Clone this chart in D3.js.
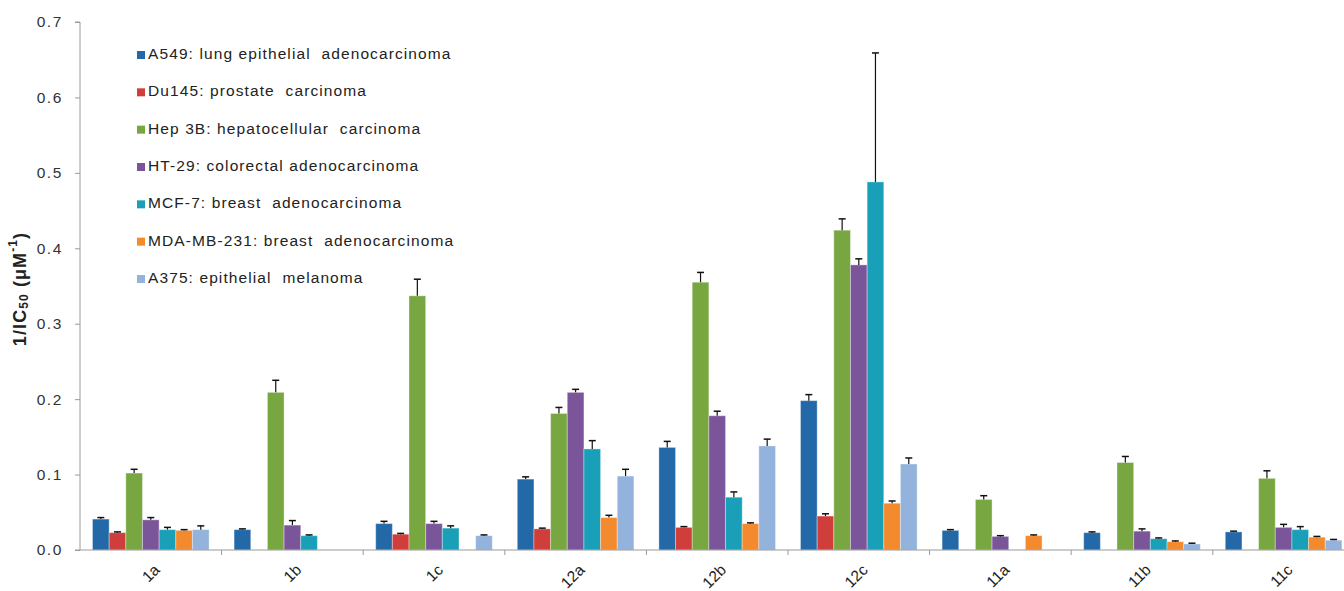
<!DOCTYPE html>
<html>
<head>
<meta charset="utf-8">
<script src="https://cdn.jsdelivr.net/npm/d3@7"></script>
<style>
  html, body { margin: 0; padding: 0; background: #fff; }
  svg { display: block; font-family: "Liberation Sans", Arial, sans-serif; }
</style>
</head>
<body>
<svg id="chart" width="1344" height="591"></svg>
<script>
// ---- data ----
const categories = ["1a", "1b", "1c", "12a", "12b", "12c", "11a", "11b", "11c"];
const seriesNames = [
  "A549: lung epithelial  adenocarcinoma",
  "Du145: prostate  carcinoma",
  "Hep 3B: hepatocellular  carcinoma",
  "HT-29: colorectal adenocarcinoma",
  "MCF-7: breast  adenocarcinoma",
  "MDA-MB-231: breast  adenocarcinoma",
  "A375: epithelial  melanoma"
];
const seriesColors = ["#2369a8", "#cf3e3a", "#78a742", "#7b559a", "#19a0b8", "#f48a2e", "#93b3dc"];

const a549   = [0.041, 0.027, 0.035, 0.094, 0.136, 0.198, 0.026, 0.023, 0.024];
const du145  = [0.023, null,  0.021, 0.028, 0.030, 0.045, null,  null,  null ];
const hep3b  = [0.102, 0.209, 0.337, 0.181, 0.355, 0.424, 0.067, 0.116, 0.095];
const ht29   = [0.040, 0.033, 0.035, 0.209, 0.178, 0.378, 0.018, 0.025, 0.030];
const mcf7   = [0.027, 0.019, 0.029, 0.134, 0.070, 0.488, null,  0.015, 0.027];
const mda    = [0.026, null,  null,  0.043, 0.035, 0.062, 0.019, 0.011, 0.017];
const a375   = [0.027, null,  0.019, 0.098, 0.138, 0.114, null,  0.008, 0.013];

const a549Err  = [0.002, 0.001, 0.003, 0.003, 0.008, 0.008, 0.001, 0.001, 0.001];
const du145Err = [0.001, 0,     0.001, 0.001, 0.001, 0.003, 0,     0,     0    ];
const hep3bErr = [0.005, 0.016, 0.022, 0.008, 0.013, 0.015, 0.005, 0.008, 0.010];
const ht29Err  = [0.003, 0.006, 0.003, 0.004, 0.006, 0.008, 0.001, 0.003, 0.004];
const mcf7Err  = [0.003, 0.001, 0.003, 0.011, 0.007, 0.171, 0,     0.001, 0.004];
const mdaErr   = [0.001, 0,     0,     0.003, 0.001, 0.003, 0.001, 0.001, 0.001];
const a375Err  = [0.005, 0,     0.001, 0.009, 0.009, 0.008, 0,     0.001, 0.001];

const yTicks = [0, 0.1, 0.2, 0.3, 0.4, 0.5, 0.6, 0.7];

const seriesValues = [a549, du145, hep3b, ht29, mcf7, mda, a375];
const seriesErrors = [a549Err, du145Err, hep3bErr, ht29Err, mcf7Err, mdaErr, a375Err];

// ---- layout ----
const svg = d3.select("#chart");
const W = 1344, H = 591;
const left = 80, baseY = 550, topY = 22;
const groupW = 141.6;

const x0 = d3.scaleBand().domain(categories).range([left, left + groupW * categories.length]).padding(0);
const x1 = d3.scaleBand().domain(d3.range(seriesNames.length)).range([0, x0.bandwidth()])
  .paddingInner(0).paddingOuter(0.75);
const y = d3.scaleLinear().domain([0, 0.7]).range([baseY, topY]);

// bars
const flat = [];
categories.forEach((c, ci) => {
  seriesValues.forEach((vals, si) => {
    if (vals[ci] != null) flat.push({ c, si, v: vals[ci], e: seriesErrors[si][ci] });
  });
});

const g = svg.append("g");
g.selectAll("rect.bar").data(flat).enter().append("rect")
  .attr("class", "bar")
  .attr("x", d => x0(d.c) + x1(d.si))
  .attr("y", d => y(d.v))
  .attr("width", x1.bandwidth())
  .attr("height", d => y(0) - y(d.v))
  .attr("fill", d => seriesColors[d.si])
  .attr("stroke", "rgba(255,255,255,0.35)")
  .attr("stroke-width", 1);

// error bars
const capW = 7;
const eb = g.selectAll("g.err").data(flat).enter().append("g").attr("class", "err");
eb.append("line")
  .attr("x1", d => x0(d.c) + x1(d.si) + x1.bandwidth() / 2)
  .attr("x2", d => x0(d.c) + x1(d.si) + x1.bandwidth() / 2)
  .attr("y1", d => y(d.v))
  .attr("y2", d => y(d.v + d.e))
  .attr("stroke", "#111").attr("stroke-width", 1.2);
eb.append("line")
  .attr("x1", d => x0(d.c) + x1(d.si) + x1.bandwidth() / 2 - capW / 2)
  .attr("x2", d => x0(d.c) + x1(d.si) + x1.bandwidth() / 2 + capW / 2)
  .attr("y1", d => y(d.v + d.e))
  .attr("y2", d => y(d.v + d.e))
  .attr("stroke", "#111").attr("stroke-width", 1.5);

// y axis
const yAxis = d3.axisLeft(y).tickValues(yTicks).tickFormat(d3.format(".1f")).tickSize(5).tickPadding(12);
const yg = svg.append("g").attr("transform", `translate(${left},0)`).call(yAxis);
yg.select(".domain").attr("stroke", "#9a9a9a").attr("d", `M-5,${topY}H0V${baseY}H-5`);
yg.selectAll(".tick line").attr("stroke", "#9a9a9a");
yg.selectAll(".tick text").attr("font-size", 15.5).attr("fill", "#333")
  .attr("letter-spacing", 1.6)
  .attr("font-family", "'Liberation Sans', Arial, sans-serif");

// x axis
const xg = svg.append("g").attr("transform", `translate(0,${baseY})`);
xg.append("line").attr("x1", left).attr("x2", W).attr("y1", 0).attr("y2", 0)
  .attr("stroke", "#9a9a9a").attr("stroke-width", 1);
xg.selectAll("line.tk").data(categories.slice(1)).enter().append("line").attr("class", "tk")
  .attr("x1", d => x0(d)).attr("x2", d => x0(d)).attr("y1", 0).attr("y2", 5)
  .attr("stroke", "#9a9a9a");
xg.selectAll("text.xl").data(categories).enter().append("text").attr("class", "xl")
  .attr("transform", d => `translate(${x0(d) + x0.bandwidth() / 2 + 7},${18}) rotate(-45)`)
  .attr("text-anchor", "end")
  .attr("dominant-baseline", "middle")
  .attr("font-size", 15.5).attr("fill", "#222")
  .text(d => d);

// y axis title
const yt = svg.append("text")
  .attr("transform", `translate(21,${289}) rotate(-90)`)
  .attr("text-anchor", "middle")
  .attr("dominant-baseline", "middle")
  .attr("font-size", 18).attr("font-weight", "bold").attr("fill", "#222")
  .attr("letter-spacing", 1.1);
yt.append("tspan").text("1/IC");
yt.append("tspan").attr("font-size", 12).attr("dy", 4).text("50");
yt.append("tspan").attr("dy", -4).text(" (μM");
yt.append("tspan").attr("font-size", 12).attr("dy", -7).text("-1");
yt.append("tspan").attr("dy", 7).text(")");

// legend
const lg = svg.append("g");
const rowY = d3.scaleLinear().domain([0, 6]).range([55, 279]);
seriesNames.forEach((name, i) => {
  lg.append("rect").attr("x", 137).attr("y", rowY(i) - 4).attr("width", 8).attr("height", 8)
    .attr("fill", seriesColors[i]);
  lg.append("text").attr("x", 148).attr("y", rowY(i)).attr("dominant-baseline", "middle")
    .attr("font-size", 15.5).attr("fill", "#222")
    .attr("letter-spacing", 1.1)
    .style("white-space", "pre")
    .attr("xml:space", "preserve")
    .text(name);
});
</script>
</body>
</html>
